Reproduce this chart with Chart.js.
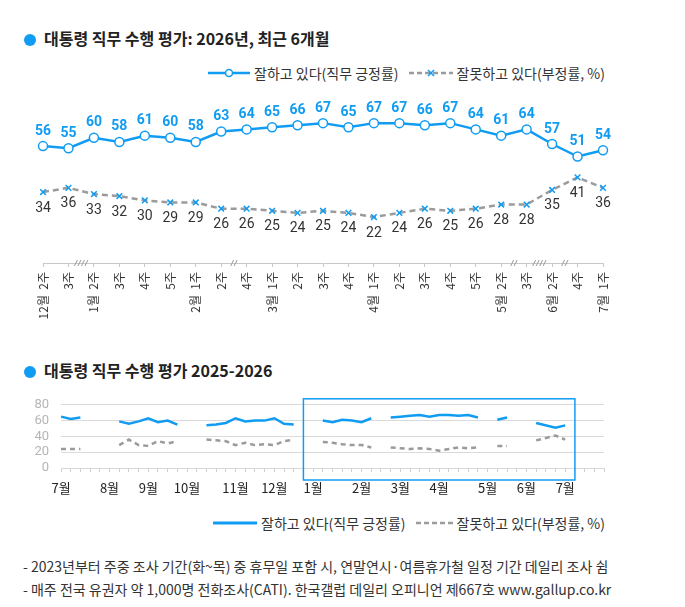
<!DOCTYPE html>
<html>
<head>
<meta charset="utf-8">
<script src="https://cdn.jsdelivr.net/npm/chart.js@4.4.1/dist/chart.umd.min.js"></script>
<style>
  body { margin: 0; width: 685px; height: 607px; background: #fff; position: relative; overflow: hidden;
    font-family: "Noto Sans CJK KR", "Noto Sans", sans-serif; color: #222; }
  canvas { position: absolute; left: 0; }
  .title { position: absolute; left: 24px; font-size: 16px; font-weight: bold; line-height: 20px; white-space: nowrap; }
  .title .dot { display: inline-block; width: 12px; height: 12px; border-radius: 50%; background: #109cf2;
    margin-right: 8px; vertical-align: -1px; }
  .legend { position: absolute; display: flex; align-items: center; font-size: 14px; line-height: 18px; color: #333; white-space: nowrap; }
  .legend svg { margin-right: 4px; }
  .legend .gap { width: 10px; }
  .note { position: absolute; left: 23px; font-size: 14px; line-height: 18px; color: #333; white-space: nowrap; }
</style>
</head>
<body>
<div class="title" style="top:28px"><span class="dot"></span>대통령 직무 수행 평가: 2026년, 최근 6개월</div>
<div class="legend" style="top:64px; left:208px">
  <svg width="42" height="10"><line x1="0" y1="5" x2="42" y2="5" stroke="#109cf2" stroke-width="2.5"/><circle cx="21" cy="5" r="3.5" fill="#fff" stroke="#109cf2" stroke-width="1.5"/></svg>
  <span>잘하고 있다(직무 긍정률)</span><span class="gap"></span>
  <svg width="44" height="10"><line x1="0" y1="5" x2="44" y2="5" stroke="#9b9b9b" stroke-width="2.5" stroke-dasharray="5 3"/><path d="M19 2 L25 8 M25 2 L19 8" stroke="#109cf2" stroke-width="1.5"/></svg>
  <span>잘못하고 있다(부정률, %)</span>
</div>
<canvas id="recent" width="685" height="250" style="top:90px"></canvas>

<div class="title" style="top:360px"><span class="dot"></span>대통령 직무 수행 평가 2025-2026</div>
<canvas id="year" width="685" height="120" style="top:385px"></canvas>
<div class="legend" style="top:514px; left:213px">
  <svg width="44" height="10"><line x1="0" y1="5" x2="44" y2="5" stroke="#109cf2" stroke-width="3"/></svg>
  <span>잘하고 있다(직무 긍정률)</span><span class="gap"></span>
  <svg width="37" height="10"><line x1="0" y1="5" x2="37" y2="5" stroke="#9b9b9b" stroke-width="2.5" stroke-dasharray="5 3"/></svg>
  <span>잘못하고 있다(부정률, %)</span>
</div>
<div class="note" style="top:557px">- 2023년부터 주중 조사 기간(화~목) 중 휴무일 포함 시, 연말연시·여름휴가철 일정 기간 데일리 조사 쉼</div>
<div class="note" style="top:580px">- 매주 전국 유권자 약 1,000명 전화조사(CATI). 한국갤럽 데일리 오피니언 제667호 www.gallup.co.kr</div>

<script>
const blue = '#109cf2';
const gray = '#9b9b9b';

// recent six months, weekly
const weekLabels = ['12월  2주', '3주', '1월  2주', '3주', '4주', '5주', '2월  1주', '2주', '4주',
  '3월  1주', '2주', '3주', '4주', '4월  1주', '2주', '3주', '4주', '5주', '5월  2주', '3주',
  '6월  2주', '4주', '7월  1주'];
const approve = [56, 55, 60, 58, 61, 60, 58, 63, 64, 65, 66, 67, 65, 67, 67, 66, 67, 64, 61, 64, 57, 51, 54];
const disapprove = [34, 36, 33, 32, 30, 29, 29, 26, 26, 25, 24, 25, 24, 22, 24, 26, 25, 26, 28, 28, 35, 41, 36];
// skipped weeks marked on the axis, after these indices
const breakAfter = [1, 7, 18, 19, 20];
const breakMarks = ['////', '//', '//', '////', '//'];

// 2025-2026, one slot per week (null = no survey)
const monthNames = ['7월', '8월', '9월', '10월', '11월', '12월', '1월', '2월', '3월', '4월', '5월', '6월', '7월'];
const monthStartWeek = [0, 5, 9, 13, 18, 22, 26, 31, 35, 39, 44, 48, 52];
const yearApprove = [
  65, 62, 64, null, null, null,
  59, 56, 59, 63, 58, 60, 55,
  null, null,
  54, 55, 57, 63, 59, 60, 60, 63, 56, 55,
  null, null,
  60, 58, 61, 60, 58, 63,
  null,
  64, 65, 66, 67, 65, 67, 67, 66, 67, 64,
  null,
  61, 64,
  null, null,
  57, null, 51, 54,
  null, null, null, null
];
const yearDisapprove = [
  24, 24, 24, null, null, null,
  29, 36, 29, 28, 34, 31, 34,
  null, null,
  36, 35, 34, 29, 32, 29, 30, 29, 34, 36,
  null, null,
  33, 32, 30, 29, 29, 26,
  null,
  26, 25, 24, 25, 24, 22, 24, 26, 25, 26,
  null,
  28, 28,
  null, null,
  35, null, 41, 36,
  null, null, null, null
];
const bridgedWeeks = [50];
const highlightWeeks = [25, 53];

const krFont = '"Noto Sans CJK KR", "Noto Sans", sans-serif';

const valueLabels = {
  id: 'valueLabels',
  afterDatasetsDraw(chart) {
    const ctx = chart.ctx;
    ctx.save();
    ctx.textAlign = 'center';
    ctx.textBaseline = 'middle';
    ctx.font = 'bold 14px Roboto';
    ctx.fillStyle = blue;
    chart.getDatasetMeta(0).data.forEach((pt, i) => ctx.fillText(approve[i], pt.x, pt.y - 15));
    ctx.font = '14px Roboto';
    ctx.fillStyle = '#333';
    chart.getDatasetMeta(1).data.forEach((pt, i) => ctx.fillText(disapprove[i], pt.x, pt.y + 16));
    ctx.restore();
  }
};

const axisBreaks = {
  id: 'axisBreaks',
  afterDraw(chart) {
    const x = chart.scales.x, y = chart.chartArea.bottom, ctx = chart.ctx;
    ctx.save();
    ctx.strokeStyle = '#999';
    ctx.lineWidth = 1;
    breakAfter.forEach((idx, k) => {
      const mid = (x.getPixelForValue(idx) + x.getPixelForValue(idx + 1)) / 2;
      const n = breakMarks[k].length;
      for (let j = 0; j < n; j++) {
        const cx = mid + (j - (n - 1) / 2) * 3.5;
        ctx.beginPath();
        ctx.moveTo(cx - 1.5, y + 3);
        ctx.lineTo(cx + 1.5, y - 3);
        ctx.stroke();
      }
    });
    ctx.restore();
  }
};

const highlightBox = {
  id: 'highlightBox',
  afterDraw(chart) {
    const x = chart.scales.x, a = chart.chartArea, ctx = chart.ctx;
    const l = x.getPixelForValue(highlightWeeks[0]), r = x.getPixelForValue(highlightWeeks[1]);
    ctx.save();
    ctx.strokeStyle = blue;
    ctx.lineWidth = 1.5;
    ctx.strokeRect(l, a.top - 6, r - l, a.bottom - a.top + 18);
    ctx.restore();
  }
};

new Chart(document.getElementById('recent'), {
  type: 'line',
  data: {
    labels: weekLabels,
    datasets: [
      { data: approve, borderColor: blue, borderWidth: 2.5, pointRadius: 4.5, pointBackgroundColor: '#fff',
        pointBorderColor: blue, pointBorderWidth: 1.5, clip: false },
      { data: disapprove, borderColor: gray, borderWidth: 2.5, borderDash: [6, 4], pointStyle: 'crossRot',
        pointRadius: 4, pointBorderColor: blue, pointBorderWidth: 1.5, clip: false }
    ]
  },
  options: {
    responsive: false,
    animation: false,
    layout: { padding: { top: 5, left: 43, right: 82, bottom: 0 } },
    plugins: { legend: { display: false }, tooltip: { enabled: false } },
    scales: {
      x: {
        offset: false,
        grid: { drawOnChartArea: false, tickLength: 4, color: '#c8c8c8' },
        border: { color: '#c8c8c8' },
        ticks: { autoSkip: false, minRotation: 90, maxRotation: 90, padding: 5, color: '#333',
          font: { size: 12, family: krFont } },
        afterFit: s => { s.height = 77; }
      },
      y: { display: false, min: 0, max: 80 }
    }
  },
  plugins: [valueLabels, axisBreaks]
});

// a line running across a missing week stays hidden unless that week is bridged
const hideGap = ctx => {
  const data = ctx.chart.data.datasets[ctx.datasetIndex].data;
  const gap = data[ctx.p0DataIndex] == null;
  return gap && !bridgedWeeks.includes(ctx.p0DataIndex) ? 'rgba(0,0,0,0)' : undefined;
};

const yearLabels = yearApprove.map((v, i) => {
  const k = monthStartWeek.indexOf(i);
  return k >= 0 ? monthNames[k] : '';
});

new Chart(document.getElementById('year'), {
  type: 'line',
  data: {
    labels: yearLabels,
    datasets: [
      { data: yearApprove, borderColor: blue, borderWidth: 2.5, pointRadius: 0, spanGaps: true,
        segment: { borderColor: hideGap } },
      { data: yearDisapprove, borderColor: gray, borderWidth: 2.5, borderDash: [5, 4], pointRadius: 0, spanGaps: true,
        segment: { borderColor: hideGap } }
    ]
  },
  options: {
    responsive: false,
    animation: false,
    layout: { padding: { top: 13, left: 0, right: 81, bottom: 0 } },
    plugins: { legend: { display: false }, tooltip: { enabled: false } },
    scales: {
      x: {
        offset: false,
        grid: { drawOnChartArea: false, tickLength: 4, color: '#d0d0d0' },
        border: { color: '#d8d8d8' },
        ticks: { autoSkip: false, maxRotation: 0, padding: 8, color: '#222', font: { size: 13, family: krFont } },
        afterFit: s => { s.height = 37; }
      },
      y: {
        min: 0, max: 80,
        ticks: { stepSize: 20, autoSkip: false, color: '#b5b5b5', padding: 12, font: { size: 13, family: 'Roboto' } },
        grid: { color: '#dadada', drawTicks: false },
        border: { display: false },
        afterFit: s => { s.width = 61; }
      }
    }
  },
  plugins: [highlightBox]
});
</script>
</body>
</html>
